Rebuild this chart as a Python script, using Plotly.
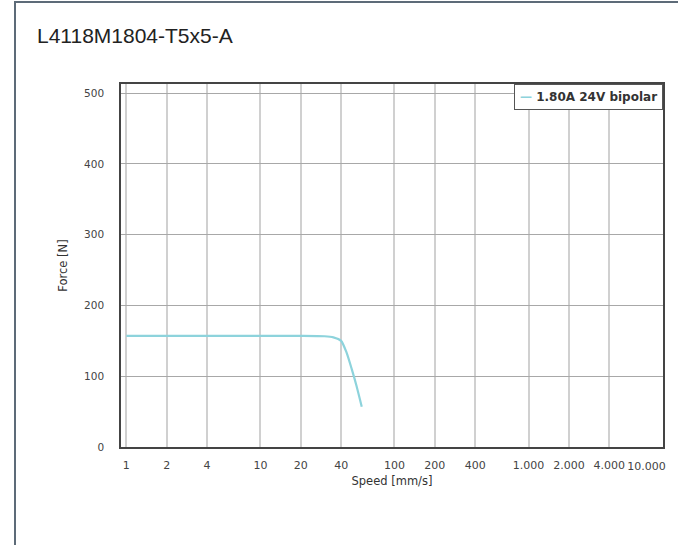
import plotly.graph_objects as go

speed = [1, 10, 20, 30, 35, 40, 44, 48, 52, 57]
force = [157, 157, 157, 156.5, 155, 150, 133, 110, 87, 57]
series_name = "1.80A 24V bipolar"
x_tickvals = [1, 2, 4, 10, 20, 40, 100, 200, 400, 1000, 2000, 4000, 10000]
x_ticktext = ["1", "2", "4", "10", "20", "40", "100", "200", "400", "1.000", "2.000", "4.000", "10.000"]
y_tickvals = [0, 100, 200, 300, 400, 500]
line_color = "#8dd3dc"

W, H = 678, 545
L, R, T, B = 121, 15, 84, 98
pw, ph = W - L - R, H - T - B

def px_x(x):
    return (x - L) / pw

def px_y(y):
    return 1 - (y - T) / ph

fig = go.Figure()
fig.add_trace(go.Scatter(x=speed, y=force, mode="lines", name=series_name, showlegend=False,
                         line=dict(color=line_color, width=2.2, shape="spline", smoothing=0.6)))
# same series on the overlaid axis that carries the last tick label (invisible)
fig.add_trace(go.Scatter(x=speed, y=force, mode="lines", name=series_name, showlegend=False,
                         xaxis="x2", yaxis="y", opacity=0, hoverinfo="skip",
                         line=dict(color=line_color, width=2.2, shape="spline", smoothing=0.6)))

xrange = [-0.04, 4.003]
tickfont_x = dict(family="DejaVu Sans", size=11, color="#444")
fig.update_layout(
    width=W, height=H,
    margin=dict(l=L, r=R, t=T, b=B, autoexpand=False),
    paper_bgcolor="white", plot_bgcolor="white",
    showlegend=False,
    xaxis=dict(type="log", range=xrange, tickvals=x_tickvals[:-1], ticktext=x_ticktext[:-1],
               showgrid=True, gridcolor="#d0d0d0", gridwidth=1.6,
               showline=True, linecolor="#444", linewidth=1.5, mirror=True,
               ticks="outside", ticklen=7, tickcolor="rgba(0,0,0,0)",
               tickangle=0, automargin=False,
               tickfont=tickfont_x, zeroline=False,
               title=dict(text="Speed [mm/s]", font=dict(family="DejaVu Sans", size=11.5, color="#333"), standoff=6)),
    xaxis2=dict(type="log", range=xrange, overlaying="x", anchor="y", side="bottom",
                tickvals=x_tickvals[-1:], ticktext=x_ticktext[-1:],
                showgrid=False, showline=False, zeroline=False,
                ticks="outside", ticklen=8.5, tickcolor="rgba(0,0,0,0)",
                tickangle=0, automargin=False, ticklabelshift=-16,
                tickfont=tickfont_x),
    yaxis=dict(range=[0, 513], tickvals=y_tickvals,
               showgrid=True, gridcolor="#a8a8a8", gridwidth=1,
               showline=True, linecolor="#444", linewidth=1.5, mirror=True,
               ticks="outside", ticklen=13, tickcolor="rgba(0,0,0,0)",
               automargin=False,
               tickfont=dict(family="DejaVu Sans", size=10.5, color="#444"), zeroline=False,
               title=dict(text="Force [N]", font=dict(family="DejaVu Sans", size=11.5, color="#333"), standoff=14)),
)

# legend box (series name as text)
fig.add_annotation(
    text=f"<b><span style='color:{line_color}'>—</span> {series_name}</b>",
    xref="paper", yref="paper", x=1, y=1, xanchor="right", yanchor="top",
    showarrow=False, align="left",
    font=dict(family="DejaVu Sans", size=12, color="#333"),
    bgcolor="white", bordercolor="#555", borderwidth=1, borderpad=5)

# page frame
fig.add_shape(type="line", xref="paper", yref="paper",
              x0=px_x(15), x1=px_x(W + 5), y0=px_y(2), y1=px_y(2),
              line=dict(color="#5d6b78", width=2))
fig.add_shape(type="line", xref="paper", yref="paper",
              x0=px_x(15), x1=px_x(15), y0=px_y(1), y1=px_y(H + 5),
              line=dict(color="#5d6b78", width=2))

fig.add_annotation(text="L4118M1804-T5x5-A", xref="paper", yref="paper",
                   x=px_x(35), y=px_y(35), xanchor="left", yanchor="middle",
                   showarrow=False,
                   font=dict(family="Liberation Sans", size=21, color="#222"))

fig.write_html("out.html", config={"displayModeBar": False},
               post_script="document.body.style.margin='0';document.body.style.overflow='hidden';")
